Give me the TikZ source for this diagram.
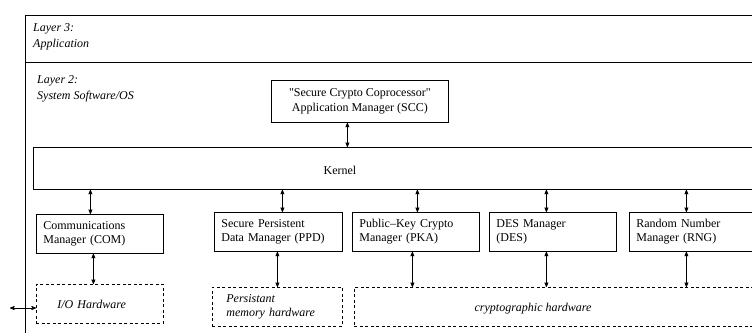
\documentclass[tikz,border=0pt]{standalone}
\usepackage{fontspec}
\setmainfont{Liberation Serif}
\usetikzlibrary{arrows,calc}

\begin{document}
\begin{tikzpicture}[x=1pt, y=-1pt,
    font=\fontsize{12}{14.4}\selectfont,
    frame/.style={draw, line width=0.8pt, anchor=north west, inner sep=0pt},
    mgr/.style={draw, line width=0.8pt, anchor=north west, minimum height=39pt, text width=113pt, inner xsep=7pt, inner ysep=0pt, align=left},
    hw/.style={draw, line width=0.8pt, dash pattern=on 3pt off 2.5pt, anchor=north west, minimum height=39pt, inner ysep=0pt, align=left, font=\fontsize{12}{14.4}\selectfont\itshape},
    layer/.style={anchor=west, inner sep=0pt, align=left, font=\fontsize{12}{16}\selectfont\itshape},
    dbl/.style={<->, >=stealth', line width=0.7pt}]
    \useasboundingbox (0,0) rectangle (752,332);
    \clip (0,0) rectangle (752,332);

    % Layers
    \node[frame, minimum width=760pt, minimum height=47pt] (layer3) at (25,15) {};
    \node[frame, minimum width=760pt, minimum height=320pt] (layer2) at (25,62) {};
    \node[layer] (l3txt) at (33,37) {Layer 3:\\Application};
    \node[layer] (l2txt) at (37,89) {Layer 2:\\System Software/OS};

    % Application manager and kernel
    \node[draw, line width=0.8pt, anchor=north west, minimum width=177pt, minimum height=42pt, inner sep=0pt, align=center] (scc) at (271,80) {\textquotedbl Secure Crypto Coprocessor\textquotedbl\\Application Manager (SCC)};
    \node[frame, minimum width=740pt, minimum height=42pt] (kernel) at (33,147) {};
    \node (kerneltxt) at (340,170) {Kernel};

    % Managers
    \node[mgr] (com) at (36,214) {Communications\\Manager (COM)};
    \node[mgr, text width=114pt] (ppd) at (214,212) {Secure Persistent\\Data Manager (PPD)};
    \node[mgr] (pka) at (352,212) {Public--Key Crypto\\Manager (PKA)};
    \node[mgr] (des) at (489,212) {DES Manager\\(DES)};
    \node[mgr] (rng) at (629,212) {Random Number\\Manager (RNG)};

    % Hardware
    \node[hw, text width=85pt, inner xsep=21pt] (io) at (36,284) {I/O Hardware};
    \node[hw, text width=102pt, inner xsep=14pt] (mem) at (212,287) {Persistant\\memory hardware};
    \node[hw, minimum width=420pt, minimum height=38.5pt] (crypto) at (354,287) {};
    \node[font=\fontsize{12}{14.4}\selectfont\itshape] (cryptotxt) at (533,309) {cryptographic hardware};

    % Connections
    \draw[dbl] ([xshift=-12.5pt]scc.south) -- ([xshift=-12.5pt]scc.south |- kernel.north);
    \draw[dbl] ([xshift=-9.5pt]com.north |- kernel.south) -- ([xshift=-9.5pt]com.north);
    \draw[dbl] ([xshift=4pt]ppd.north |- kernel.south) -- ([xshift=4pt]ppd.north);
    \draw[dbl] ([xshift=1.5pt]pka.north |- kernel.south) -- ([xshift=1.5pt]pka.north);
    \draw[dbl] ([xshift=-6.5pt]des.north |- kernel.south) -- ([xshift=-6.5pt]des.north);
    \draw[dbl] ([xshift=-6.5pt]rng.north |- kernel.south) -- ([xshift=-6.5pt]rng.north);
    \draw[dbl] ([xshift=-6.5pt]com.south) -- ([xshift=-6.5pt]com.south |- io.north);
    \draw[dbl] (mem.north |- ppd.south) -- (mem.north);
    \draw[dbl] ([xshift=-3.5pt]pka.south) -- ([xshift=-3.5pt]pka.south |- crypto.north);
    \draw[dbl] ([xshift=-6.5pt]des.south) -- ([xshift=-6.5pt]des.south |- crypto.north);
    \draw[dbl] ([xshift=-6.5pt]rng.south) -- ([xshift=-6.5pt]rng.south |- crypto.north);
    \coordinate (ioext) at (10,308);
    \draw[dbl] (ioext) -- (ioext -| io.west);
\end{tikzpicture}
\end{document}
